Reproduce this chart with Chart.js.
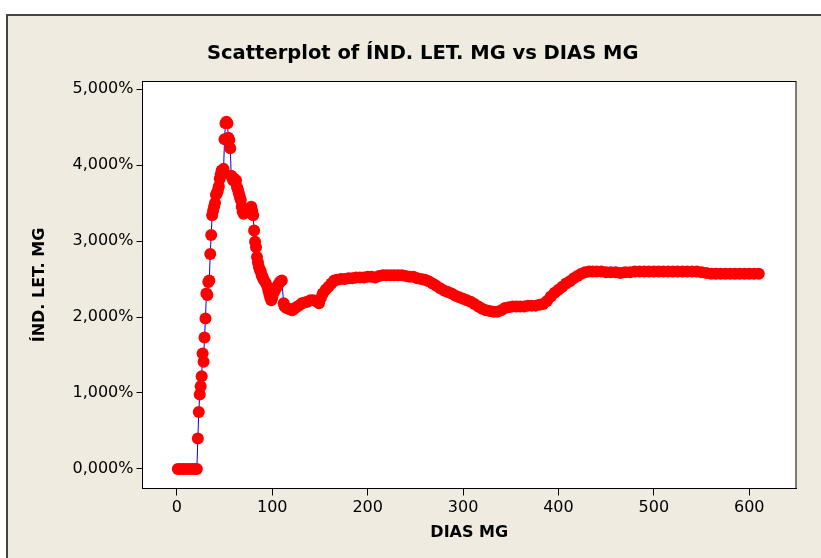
<!DOCTYPE html>
<html>
<head>
<meta charset="utf-8">
<script src="https://cdn.jsdelivr.net/npm/chart.js@4.4.1/dist/chart.umd.min.js"></script>
<style>
  html, body { margin: 0; padding: 0; background: #fff; }
  #marco { position: absolute; left: 6px; top: 14px; width: 830px; height: 560px;
           background: #efebe1; border-left: 2px solid #444; border-top: 2px solid #444; }
  #grafico { position: absolute; left: 0; top: 0; }
  #titulo { position: absolute; left: 207px; top: 41px; width: 430px; text-align: center;
            font: bold 19.5px 'DejaVu Sans'; line-height: 24px; color: #000; white-space: nowrap; }
</style>
</head>
<body>
<div id="marco"></div>
<canvas id="grafico" width="821" height="558"></canvas>
<div id="titulo">Scatterplot of ÍND. LET. MG vs DIAS MG</div>
<script>
// DIAS MG (eje x) e ÍND. LET. MG (eje y, en %)
const dias = [
  1, 4, 7, 10, 13, 16, 19, 21,
  22, 23, 24, 25, 26, 27, 28, 29, 30, 31, 32, 33, 34, 35, 36, 37, 38, 39,
  40, 41, 42, 43, 44, 45, 46, 47, 48, 49, 50, 51, 52, 53, 54, 55, 56, 57,
  58, 59, 60, 61, 62, 63, 64, 65, 66, 67, 68, 69, 70, 72, 74, 76, 78, 79,
  80, 81, 82, 83, 84, 85, 86, 87, 88, 89, 90, 91, 93, 95, 96, 97, 98, 99,
  100, 102, 104, 106, 108, 110, 112, 113, 115, 117, 119, 121, 123, 125,
  128, 131, 134, 137, 140, 143, 146, 149, 151, 153, 156, 159, 162, 165,
  168, 172, 176, 180, 184, 188, 192, 196, 200, 204, 208, 212, 216, 220,
  224, 228, 232, 236, 240, 244, 248, 252, 256, 260, 264, 268, 272, 276,
  280, 284, 288, 292, 296, 300, 304, 308, 312, 316, 320, 324, 328, 332,
  336, 340, 344, 348, 352, 356, 360, 364, 368, 372, 376, 380, 384, 388,
  392, 396, 400, 404, 408, 412, 416, 420, 424, 428, 432, 436, 440, 445,
  450, 455, 460, 465, 470, 475, 480, 485, 490, 495, 500, 505, 510, 515,
  520, 525, 530, 535, 540, 545, 550, 555, 560, 565, 570, 575, 580, 585,
  590, 595, 600, 605, 610
];
const indice = [
  0, 0, 0, 0, 0, 0, 0, 0,
  0.40, 0.75, 0.98, 1.09, 1.22, 1.52, 1.41, 1.73, 1.98, 2.31, 2.29, 2.46, 2.48, 2.83, 3.08, 3.34, 3.40, 3.45,
  3.50, 3.61, 3.63, 3.67, 3.72, 3.82, 3.88, 3.93, 3.90, 3.95, 4.34, 4.55, 4.57, 4.55, 4.36, 4.33, 4.22, 3.86,
  3.84, 3.80, 3.82, 3.78, 3.80, 3.71, 3.68, 3.63, 3.58, 3.54, 3.45, 3.39, 3.36, 3.38, 3.39, 3.42, 3.45, 3.40,
  3.34, 3.14, 2.99, 2.92, 2.79, 2.72, 2.66, 2.62, 2.60, 2.55, 2.52, 2.49, 2.45, 2.40, 2.35, 2.30, 2.25, 2.22,
  2.26, 2.33, 2.38, 2.42, 2.46, 2.48, 2.18, 2.14, 2.12, 2.11, 2.10, 2.09, 2.11, 2.13,
  2.15, 2.18, 2.19, 2.20, 2.22, 2.22, 2.21, 2.18, 2.25, 2.31, 2.36, 2.40, 2.44, 2.48,
  2.49, 2.50, 2.50, 2.51, 2.51, 2.52, 2.52, 2.52, 2.53, 2.53, 2.52, 2.54, 2.55, 2.55,
  2.55, 2.55, 2.55, 2.55, 2.54, 2.53, 2.53, 2.51, 2.50, 2.49, 2.47, 2.44, 2.41, 2.38,
  2.35, 2.33, 2.31, 2.28, 2.26, 2.24, 2.22, 2.20, 2.17, 2.14, 2.11, 2.09, 2.08, 2.07,
  2.07, 2.09, 2.12, 2.13, 2.14, 2.14, 2.14, 2.14, 2.15, 2.15, 2.15, 2.16, 2.17, 2.21,
  2.27, 2.32, 2.36, 2.40, 2.44, 2.47, 2.51, 2.54, 2.57, 2.59, 2.60, 2.60, 2.60, 2.60,
  2.59, 2.59, 2.59, 2.58, 2.59, 2.59, 2.60, 2.60, 2.60, 2.60, 2.60, 2.60, 2.60, 2.60,
  2.60, 2.60, 2.60, 2.60, 2.60, 2.60, 2.59, 2.58, 2.57, 2.57, 2.57, 2.57, 2.57, 2.57,
  2.57, 2.57, 2.57, 2.57, 2.57
];
const ticksX = [0, 100, 200, 300, 400, 500, 600];
const ticksY = [0, 1, 2, 3, 4, 5];

const fuente = 'DejaVu Sans';

// marco negro alrededor del área de datos
const cajaPlugin = {
  id: 'caja',
  afterDraw(chart) {
    const { ctx, chartArea: a } = chart;
    ctx.save();
    ctx.strokeStyle = '#000';
    ctx.lineWidth = 1;
    ctx.strokeRect(a.left, a.top, a.right - a.left, a.bottom - a.top);
    ctx.restore();
  }
};
const fondoPlugin = {
  id: 'fondo',
  beforeDraw(chart) {
    const { ctx, chartArea: a } = chart;
    ctx.save();
    ctx.fillStyle = '#fff';
    ctx.fillRect(a.left, a.top, a.right - a.left, a.bottom - a.top);
    ctx.restore();
  }
};

new Chart(document.getElementById('grafico'), {
  type: 'scatter',
  data: {
    datasets: [{
      data: dias.map((d, i) => ({ x: d, y: indice[i] })),
      showLine: true,
      borderColor: '#0000ff',
      borderWidth: 1,
      pointRadius: 6,
      pointBackgroundColor: '#ff0000',
      pointBorderColor: '#ff0000',
      pointBorderWidth: 0,
    }],
  },
  options: {
    responsive: false,
    animation: false,
    layout: { padding: { left: 0, right: 25, top: 81.5, bottom: 0 } },
    plugins: {
      legend: { display: false },
      tooltip: { enabled: false },
      title: { display: false },
    },
    scales: {
      x: {
        type: 'linear',
        min: -36,
        max: 649,
        afterFit: s => { s.height = 69.5; },
        afterBuildTicks: s => { s.ticks = ticksX.map(v => ({ value: v })); },
        grid: { display: true, drawOnChartArea: false, drawTicks: true, tickLength: 7, color: '#000' },
        border: { display: true, color: '#000' },
        ticks: { color: '#000', padding: 3, font: { family: fuente, size: 16 }, maxRotation: 0 },
        title: {
          display: true, text: 'DIAS MG', color: '#000',
          font: { family: fuente, size: 16, weight: 'bold' },
          padding: { top: 0, bottom: 15.5 },
        },
      },
      y: {
        type: 'linear',
        min: -0.257,
        max: 5.1,
        afterFit: s => { s.width = 142.5; },
        afterBuildTicks: s => { s.ticks = ticksY.map(v => ({ value: v })); },
        grid: { display: true, drawOnChartArea: false, drawTicks: true, tickLength: 6, color: '#000' },
        border: { display: true, color: '#000' },
        ticks: {
          color: '#000', padding: 3, font: { family: fuente, size: 16 },
          callback: v => v.toFixed(3).replace('.', ',') + '%',
        },
        title: {
          display: true, text: 'ÍND. LET. MG', color: '#000',
          font: { family: fuente, size: 16, weight: 'bold' },
          padding: { top: 30.5, bottom: 0 },
        },
      },
    },
  },
  plugins: [fondoPlugin, cajaPlugin],
});
</script>
</body>
</html>
